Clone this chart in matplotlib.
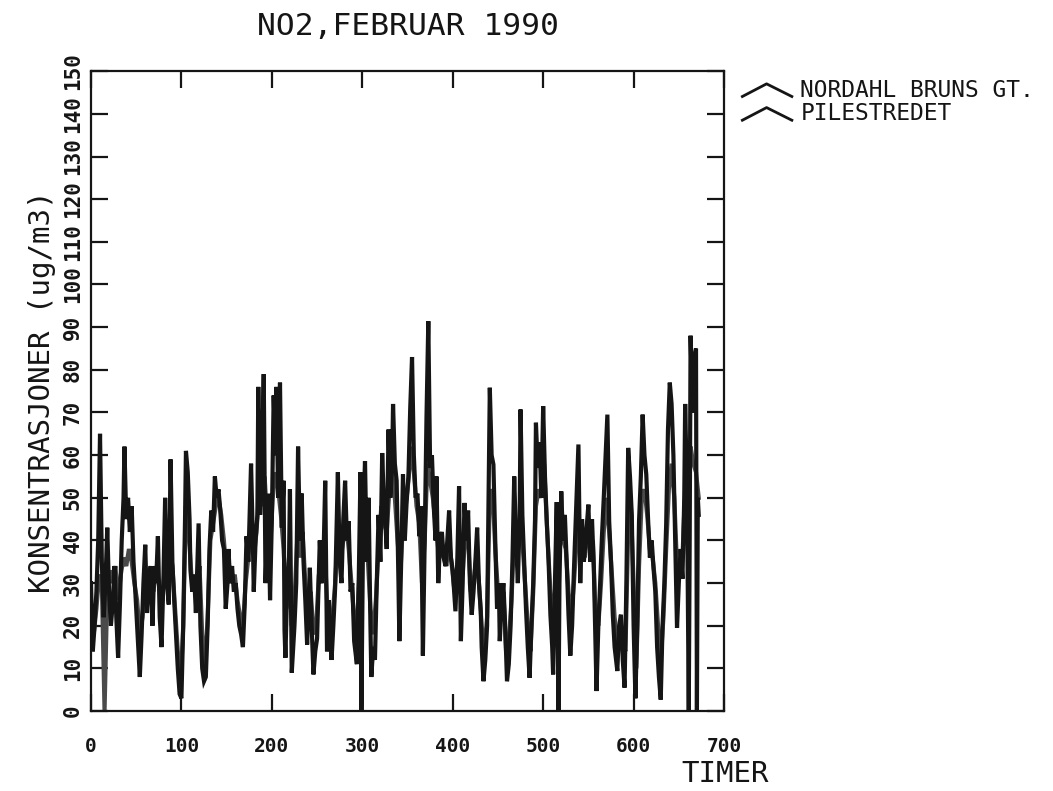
import matplotlib
matplotlib.use("Agg")
import matplotlib.pyplot as plt
from matplotlib.lines import Line2D

# ---------------- data ----------------
title = "NO2,FEBRUAR 1990"
xlabel = "TIMER"
ylabel = "KONSENTRASJONER (ug/m3)"
series_names = ["NORDAHL BRUNS GT.", "PILESTREDET"]
x_ticks = [0, 100, 200, 300, 400, 500, 600, 700]
y_ticks = [0, 10, 20, 30, 40, 50, 60, 70, 80, 90, 100, 110, 120, 130, 140, 150]

nb_hours = [0, 2, 4, 6, 8, 10, 12, 14, 16, 18, 20, 22, 24, 26, 28, 30, 32, 34, 36, 37,
            39, 41, 43, 45, 47, 49, 51, 54, 56, 58, 60, 62, 64, 66, 68, 70, 72, 74, 76, 78,
            80, 82, 84, 86, 88, 90, 92, 94, 96, 98, 100, 102, 104, 105, 107, 109, 110, 112, 114, 116,
            119, 121, 123, 125, 127, 129, 131, 133, 135, 137, 139, 141, 143, 145, 147, 149, 151, 152, 154, 156,
            158, 160, 162, 164, 166, 168, 170, 172, 174, 177, 179, 180, 182, 184, 185, 187, 189, 191, 193, 196,
            198, 200, 202, 204, 205, 207, 209, 211, 213, 214, 215, 217, 219, 220, 222, 225, 227, 229, 231, 233,
            235, 237, 239, 242, 244, 246, 248, 250, 253, 255, 257, 259, 261, 263, 266, 268, 270, 273, 275, 277,
            279, 281, 283, 285, 287, 289, 291, 294, 296, 298, 299, 301, 303, 305, 307, 309, 310, 312, 314, 316,
            318, 320, 322, 324, 326, 327, 329, 331, 333, 334, 336, 338, 340, 341, 343, 345, 347, 349, 351, 353,
            355, 357, 359, 361, 363, 365, 367, 369, 371, 373, 375, 377, 379, 381, 382, 384, 386, 388, 390, 392,
            394, 396, 398, 400, 403, 405, 407, 409, 411, 413, 415, 417, 419, 421, 423, 425, 427, 429, 431, 432,
            434, 436, 438, 441, 443, 445, 447, 449, 451, 452, 454, 456, 458, 460, 462, 464, 466, 468, 470, 472,
            474, 475, 477, 479, 481, 483, 485, 487, 489, 491, 492, 494, 496, 498, 500, 502, 504, 506, 508, 510,
            511, 513, 515, 516, 517, 518, 520, 522, 524, 526, 528, 530, 532, 534, 536, 539, 541, 543, 545, 547,
            550, 552, 554, 556, 558, 559, 561, 563, 565, 567, 569, 571, 573, 575, 577, 579, 582, 584, 586, 588,
            590, 592, 594, 596, 598, 600, 602, 604, 606, 608, 610, 612, 614, 616, 618, 620, 622, 624, 626, 628,
            630, 632, 634, 636, 638, 640, 642, 644, 646, 648, 650, 652, 654, 656, 657, 659, 661, 662, 663, 665,
            667, 669, 670, 671, 672]
nb_values = [30, 14, 20, 28, 40, 65, 35, 22, 30, 43, 28, 20, 25, 34, 22, 12.5, 25, 40, 50, 62,
             45, 50, 42, 48, 35, 28, 20, 8, 18, 30, 39, 23, 30, 34, 20, 34, 30, 41, 22, 15,
             30, 50, 30, 25, 59, 35, 26, 18, 10, 4, 3, 20, 45, 61, 56, 45, 33, 28, 32, 23,
             44, 20, 10, 7, 8, 20, 38, 47, 42, 55, 50, 52, 47, 40, 38, 24, 30, 38, 30, 34,
             28, 30, 24, 20, 18, 15, 25, 41, 35, 58, 40, 28, 40, 46, 76, 46, 57, 79, 30, 51,
             26, 45, 74, 60, 76, 50, 77, 43, 54, 19, 12.5, 30, 36, 52, 9, 20, 30, 62, 40, 51,
             35, 26, 15.6, 33.6, 20, 8.6, 14, 17, 40, 30, 35, 54, 14, 26, 12, 20, 29, 56, 35, 30,
             45, 54, 40, 44.5, 28, 30, 16.4, 11, 30, 56, 0, 45, 58.6, 35, 50, 20, 8, 15, 12, 30,
             46, 35, 60.5, 48, 42, 38, 66, 50, 58, 72, 58, 54, 30, 16.4, 35, 55.5, 40, 49, 55, 71,
             83, 60, 50, 51, 41, 48, 13, 40, 69, 91.4, 57, 60, 48, 40, 55, 30, 40, 42, 36, 34,
             40, 47, 36, 33, 23.4, 35, 52.7, 16.4, 30, 48.8, 40, 47, 30, 22.6, 28, 35, 43, 30, 23.4, 15,
             7, 12, 20, 75.8, 60, 57.8, 40, 24, 30, 16.4, 25, 30, 20, 7, 11, 20, 35, 55, 40, 30,
             45, 70.7, 46, 35, 24, 15, 7.8, 20, 30, 45, 67.6, 57, 63, 50, 71.5, 55, 44.5, 35, 22.6, 15,
             8.6, 30, 49, 20, 0, 30, 51.5, 40, 46, 35, 22.6, 13, 20, 33, 45, 62.5, 30, 45, 35, 40,
             48.4, 35, 45, 33.6, 15, 4.7, 20, 30, 41, 50, 60, 69.5, 44.5, 35, 22.6, 15, 9.4, 20, 22.6, 12,
             5.5, 30, 61.7, 55, 46, 20, 3, 20, 44.5, 55, 69.5, 60, 55.5, 45, 36, 40, 33.6, 28, 15, 8,
             2.7, 20, 30, 43.7, 66, 77, 72, 60, 40, 19.5, 30, 38, 31, 50, 72, 52, 0, 40, 88, 70,
             83, 85, 0, 50, 46]

# Pilestredet, one value every 3 hours (hour 0, 3, 6, ... 672)
pi_step = 3
pi_values = [25, 18, 24, 32, 30, 0, 28, 33, 30, 34,
             26, 32, 36, 34, 38, 35, 30, 26, 18, 22,
             30, 26, 30, 28, 33, 30, 24, 32, 30, 38,
             34, 24, 14, 6, 20, 48, 42, 32, 30, 28,
             34, 18, 10, 22, 40, 44, 48, 50, 46, 40,
             32, 34, 30, 32, 26, 22, 20, 30, 36, 44,
             36, 42, 52, 48, 55, 44, 38, 50, 56, 52,
             46, 38, 24, 32, 20, 26, 40, 36, 42, 30,
             24, 28, 18, 20, 32, 30, 40, 26, 20, 22,
             30, 42, 36, 40, 44, 38, 30, 22, 18, 34,
             40, 46, 36, 24, 18, 26, 38, 48, 44, 42,
             52, 56, 50, 40, 32, 44, 48, 54, 62, 56,
             48, 44, 30, 40, 58, 54, 50, 44, 38, 40,
             36, 34, 40, 34, 28, 34, 40, 32, 42, 40,
             28, 30, 36, 30, 20, 14, 22, 50, 52, 38,
             28, 24, 28, 14, 16, 26, 42, 36, 44, 40,
             30, 20, 14, 28, 48, 52, 50, 58, 44, 32,
             20, 28, 36, 44, 40, 38, 28, 22, 30, 40,
             44, 38, 36, 42, 38, 40, 22, 20, 30, 42,
             50, 42, 32, 22, 16, 20, 16, 14, 42, 48,
             30, 10, 34, 50, 52, 46, 38, 36, 30, 20,
             12, 22, 38, 52, 58, 50, 34, 34, 36, 52,
             50, 62, 58, 56, 50]
pi_hours = [i * pi_step for i in range(len(pi_values))]

# ---------------- figure ----------------
FONT = ["DejaVu Sans Mono"]
plt.rcParams["font.family"] = FONT
INK = "#151515"

fig = plt.figure(figsize=(10.53, 7.91), dpi=100)
ax = fig.add_axes([0.0864, 0.1010, 0.6012, 0.8090])

ax.plot(pi_hours, pi_values, color="#4a4a4a", lw=3.0, solid_joinstyle="miter", zorder=2)
ax.plot(nb_hours, nb_values, color=INK, lw=3.0, solid_joinstyle="miter", zorder=3)

ax.set_xlim(0, 700)
ax.set_ylim(0, 150)
ax.set_xticks(x_ticks)
ax.set_yticks(y_ticks)
ax.set_xticklabels([str(v) for v in x_ticks], fontsize=14, fontweight="bold")
ax.set_yticklabels([str(v) for v in y_ticks], fontsize=15, fontweight="bold",
                   rotation=90, va="center")
ax.tick_params(axis="both", direction="in", length=12, width=1.6,
               top=True, right=True, colors=INK)
ax.tick_params(axis="x", pad=19)
ax.tick_params(axis="y", pad=6)
for sp in ax.spines.values():
    sp.set_linewidth(1.6)
    sp.set_color(INK)

ax.set_title(title, fontsize=22.5, pad=26, color=INK)
fig.text(0.689, 0.021, xlabel, fontsize=21, ha="center", va="center", color=INK)
fig.text(0.040, 0.505, ylabel, fontsize=21, ha="center", va="center",
         rotation=90, color=INK)

# legend (chevron symbols + names), outside the axes on the right
leg_y = [0.886, 0.856]
for name, yy in zip(series_names, leg_y):
    fig.add_artist(Line2D([0.705, 0.728, 0.752], [yy - 0.008, yy + 0.008, yy - 0.008],
                          transform=fig.transFigure, color=INK, lw=2.0))
    fig.text(0.760, yy, name, fontsize=16.5, ha="left", va="center", color=INK)

fig.savefig("out.png", dpi=100)
